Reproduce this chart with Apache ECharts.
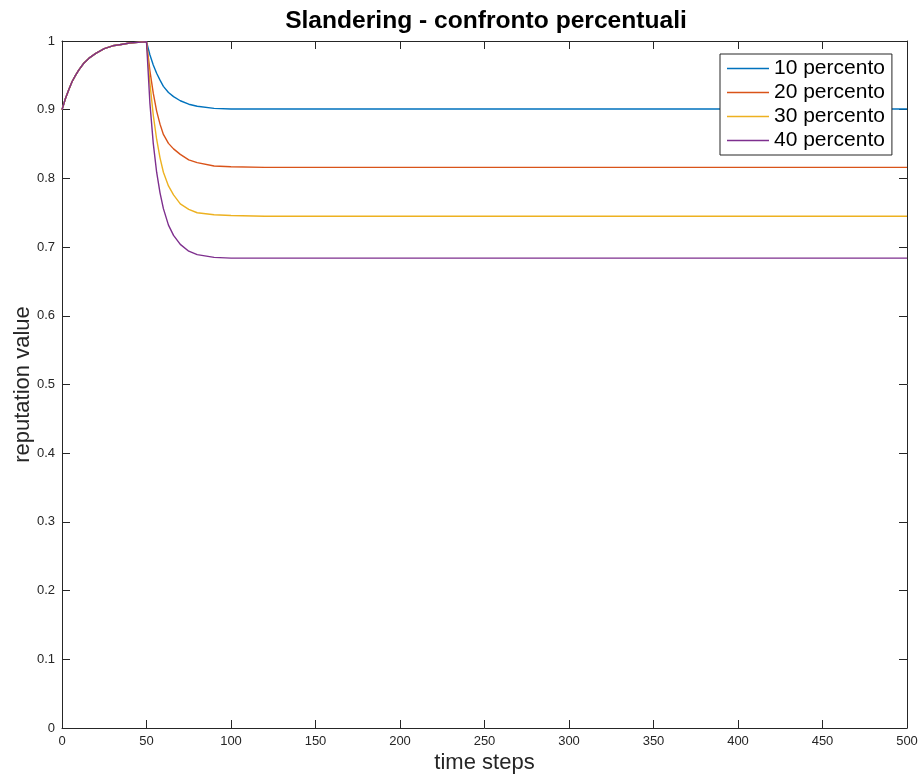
<!DOCTYPE html>
<html>
<head>
<meta charset="utf-8">
<title>Slandering - confronto percentuali</title>
<script src="https://cdn.jsdelivr.net/npm/echarts@6/dist/echarts.min.js"></script>
<style>
  html, body { margin: 0; padding: 0; background: #ffffff; }
  #chart { width: 923px; height: 774px; }
</style>
</head>
<body>
<div id="chart"></div>
<script>
// Simulation time steps at which the reputation is sampled
const timeSteps = [0, 2, 4, 6, 8, 10, 13, 16, 20, 25, 30, 35, 40, 45, 50,
                   52, 54, 56, 58, 60, 63, 66, 70, 75, 80, 90, 100, 120, 500];

// Reputation value for each slandering percentage
const percent10 = [0.900, 0.916, 0.929, 0.941, 0.950, 0.958, 0.968, 0.975, 0.982, 0.989, 0.993, 0.995, 0.997, 0.998, 0.999,
                   0.980, 0.965, 0.953, 0.943, 0.934, 0.925, 0.919, 0.913, 0.908, 0.905, 0.902, 0.901, 0.901, 0.901];
const percent20 = [0.900, 0.916, 0.929, 0.941, 0.950, 0.958, 0.968, 0.975, 0.982, 0.989, 0.993, 0.995, 0.997, 0.998, 0.999,
                   0.957, 0.924, 0.898, 0.879, 0.864, 0.851, 0.843, 0.835, 0.827, 0.823, 0.818, 0.817, 0.816, 0.816];
const percent30 = [0.900, 0.916, 0.929, 0.941, 0.950, 0.958, 0.968, 0.975, 0.982, 0.989, 0.993, 0.995, 0.997, 0.998, 0.999,
                   0.939, 0.892, 0.857, 0.830, 0.809, 0.789, 0.776, 0.763, 0.755, 0.750, 0.747, 0.746, 0.745, 0.745];
const percent40 = [0.900, 0.916, 0.929, 0.941, 0.950, 0.958, 0.968, 0.975, 0.982, 0.989, 0.993, 0.995, 0.997, 0.998, 0.999,
                   0.910, 0.851, 0.809, 0.779, 0.756, 0.732, 0.717, 0.704, 0.694, 0.689, 0.685, 0.684, 0.684, 0.684];

const seriesNames = ['10 percento', '20 percento', '30 percento', '40 percento'];
const seriesValues = [percent10, percent20, percent30, percent40];
const seriesColors = ['#0072BD', '#D95319', '#EDB120', '#7E2F8E'];

// Axis ranges and tick spacing
const xMin = 0, xMax = 500, xStep = 50;
const yMin = 0, yMax = 1, yStep = 0.1;

const FONT = '"Liberation Sans", Helvetica, Arial, sans-serif';
const AXIS_COLOR = '#262626';

const chart = echarts.init(document.getElementById('chart'), null, { renderer: 'canvas' });

function pairs(values) {
  return timeSteps.map((t, i) => [t, values[i]]);
}

// Boxed frame: every side carries inward ticks
const frameAxis = {
  axisLine: { show: true, onZero: false, lineStyle: { color: AXIS_COLOR, width: 1 } },
  axisTick: { show: true, inside: true, length: 8, lineStyle: { color: AXIS_COLOR, width: 1 } },
  splitLine: { show: false }
};

chart.setOption({
  backgroundColor: '#ffffff',
  animation: false,
  title: {
    text: 'Slandering - confronto percentuali',
    left: 481,
    textAlign: 'center',
    top: 4,
    textStyle: { fontFamily: FONT, fontSize: 24.6, fontWeight: 'bold', color: '#000000' }
  },
  grid: { left: 62, right: 16, top: 41, bottom: 46, containLabel: false, outerBoundsMode: 'none' },
  legend: {
    orient: 'vertical',
    left: 720,
    top: 54,
    padding: [4, 7, 4, 7],
    itemGap: 3,
    itemWidth: 42,
    itemHeight: 1.4,
    icon: 'rect',
    backgroundColor: '#ffffff',
    borderColor: AXIS_COLOR,
    borderWidth: 1,
    textStyle: { fontFamily: FONT, fontSize: 21, color: '#000000', lineHeight: 21 },
    data: seriesNames
  },
  xAxis: [
    Object.assign({}, frameAxis, {
      type: 'value', position: 'bottom',
      min: xMin, max: xMax, interval: xStep,
      name: 'time steps', nameLocation: 'middle', nameGap: 24, nameMoveOverlap: false,
      nameTextStyle: { fontFamily: FONT, fontSize: 22, color: AXIS_COLOR },
      axisLabel: { margin: 7, fontFamily: FONT, fontSize: 13, color: AXIS_COLOR }
    }),
    Object.assign({}, frameAxis, {
      type: 'value', position: 'top',
      min: xMin, max: xMax, interval: xStep,
      axisLabel: { show: false }
    })
  ],
  yAxis: [
    Object.assign({}, frameAxis, {
      type: 'value', position: 'left',
      min: yMin, max: yMax, interval: yStep,
      name: 'reputation value', nameLocation: 'middle', nameGap: 28, nameMoveOverlap: false,
      nameTextStyle: { fontFamily: FONT, fontSize: 22, color: AXIS_COLOR },
      axisLabel: {
        margin: 7, fontFamily: FONT, fontSize: 13, color: AXIS_COLOR,
        formatter: v => (Math.round(v * 10) / 10).toString()
      }
    }),
    Object.assign({}, frameAxis, {
      type: 'value', position: 'right',
      min: yMin, max: yMax, interval: yStep,
      axisLabel: { show: false }
    })
  ],
  series: seriesNames.map((name, i) => ({
    name: name,
    type: 'line',
    xAxisIndex: 0,
    yAxisIndex: 0,
    data: pairs(seriesValues[i]),
    symbol: 'none',
    smooth: false,
    color: seriesColors[i],
    lineStyle: { color: seriesColors[i], width: 1.4 },
    emphasis: { disabled: true }
  }))
});
</script>
</body>
</html>
